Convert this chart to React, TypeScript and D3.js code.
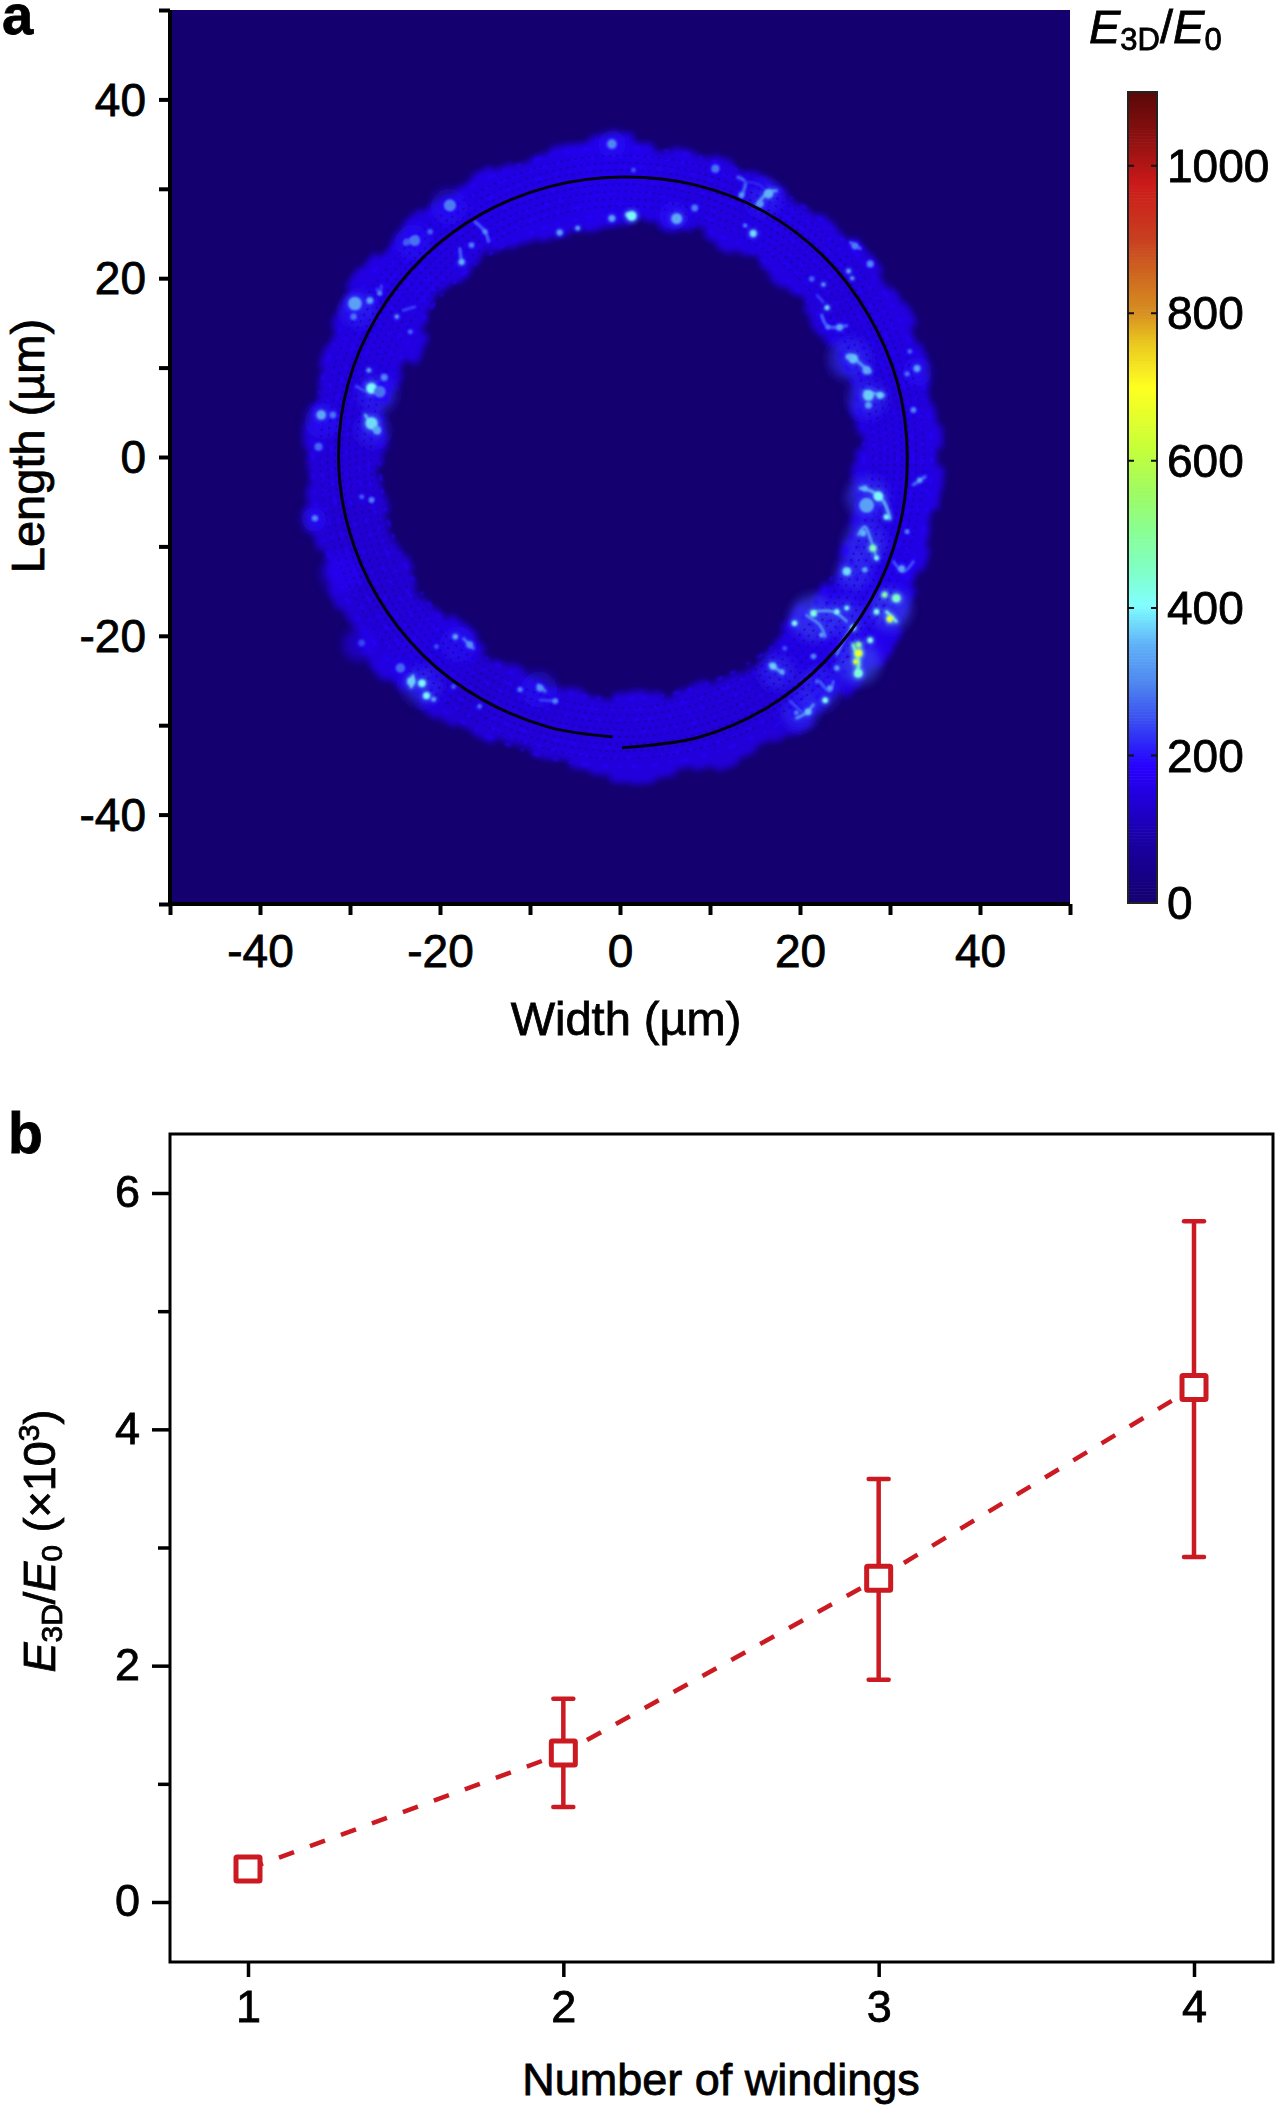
import React, { useEffect, useRef } from 'react';
import * as d3 from 'd3';

const FONT = '"Liberation Sans", Arial, sans-serif';
const RED = '#cc1a22';

// panel a: colour bar
const colorValues = [0, 90, 150, 185, 205, 250, 300, 350, 405, 450, 500, 560, 620, 700, 760, 800, 850, 900, 975, 1040, 1100];
const colorHex = ['#14006e', '#1a00a8', '#2200e0', '#2800ff', '#2a18fa', '#3a50f0', '#5088f0', '#60b0f8', '#80ffff', '#80ffc8', '#88ff98', '#a0fb60', '#c8ff38', '#ffff20', '#eac820', '#d89020', '#cf6a20', '#c84020', '#cc1a1a', '#8c1010', '#5a0808'];
const colorTicks = [0, 200, 400, 600, 800, 1000];

// panel a: ring edges in um, one value per 3.75 degree sector, clockwise from the top
const ringOuter = [
  36, 35, 34.2, 34.9, 34.6, 35.1, 34.5, 35, 34.8, 34.2, 34.4, 35, 34.8, 35.6, 35.7, 35, 35.6, 36, 35.1, 35.6, 35.2, 34.8, 35.2, 35.7,
  35, 35.8, 35.6, 34.9, 35.2, 35.8, 35.2, 35.9, 36, 36.8, 37, 36.2, 36.6, 35.4, 35.8, 36.5, 36, 35.5, 36, 36.5, 35.8, 35.3, 35.9, 36.4,
  36.2, 35.4, 35, 34.3, 34.6, 34, 34.2, 35, 34.8, 35.4, 35.8, 35.1, 35.7, 36.4, 36, 35.2, 35.4, 35.9, 35.2, 34.7, 35.4, 35.9, 35.3, 34.8,
  35, 35.5, 35, 34.4, 34.7, 35.2, 34.8, 35.5, 35.5, 36.1, 35.7, 34.8, 35.1, 35.6, 35.1, 34.5, 35, 35.5, 34.9, 34.4, 34.8, 35.3, 35.2, 35.8];
const ringInner = [
  25.8, 26.6, 26.4, 25.7, 26.2, 26.9, 26, 25.5, 26.2, 26.8, 26.2, 25.7, 26.2, 26.8, 26, 25.6, 26, 26.7, 26.3, 26.9, 26.7, 26, 26.3, 26.9,
  26, 25.6, 26, 26.7, 26.4, 27, 26.4, 27.2, 27.3, 26.4, 26.5, 25.6, 25.8, 26.6, 27, 27.6, 27.5, 27.1, 27.1, 26.4, 26.7, 27.2, 26.4, 26,
  26.2, 27, 26.8, 26.2, 26.6, 27.1, 26.5, 25.9, 26.4, 26.9, 26, 25.4, 25.6, 26.5, 26.9, 27.4, 26.8, 26.2, 26.7, 27.2, 27.1, 26.5, 26.9, 27.3,
  26.6, 26.1, 26.7, 27.2, 26.6, 26, 26.5, 25, 25.2, 26.4, 27, 27.4, 27, 26.4, 26.9, 27.3, 26.7, 26.2, 26, 25.5, 25.4, 25.7, 25.3, 25.6];
// one level per 7.5 degrees
const ringLevel = [160, 155, 150, 150, 155, 150, 150, 145, 150, 150, 145, 150, 150, 155, 155, 160, 160, 165, 155, 145, 140, 140, 145, 145, 145, 145, 140, 140, 135, 145, 150, 140, 135, 135, 135, 140, 140, 145, 145, 150, 150, 155, 150, 150, 155, 155, 155, 160];
const latticeRadii = [27.9, 28.7, 29.5, 30.3, 31.1, 31.9, 32.7, 33.5];
const strandRadii = [26.9, 28.1, 29.3, 30.6, 32.3, 33.4, 34.4];
const strandDashes = ['7 9 3 14 5 8', '4 12 9 7 3 10', '3 16 5 9 6 13', '5 14 3 8 4 17', '6 8 4 15 8 11', '9 7 4 12 5 9', '6 13 8 9 3 11'];

// panel a: black wire, a single turn that does not quite close
const wireAngles = [180, 165, 150, 135, 120, 105, 90, 75, 60, 45, 30, 15, 0, -15, -30, -45, -60, -75, -90, -105, -120, -135, -150, -165, -178];
const wireRadii = [32.3, 32.3, 32.2, 32, 31.9, 31.8, 31.7, 31.7, 31.6, 31.6, 31.5, 31.3, 31.1, 31.1, 31.2, 31.3, 31.4, 31.5, 31.5, 31.4, 31.3, 31.2, 31.1, 31.1, 31.1];

// [x um, y um, value, size um]
const softPatches = [[-29, 16.5, 215, 2], [-27, 7, 215, 2.2], [-27.5, 3, 215, 1.8], [-33, 4, 205, 2], [-19, 28, 205, 2], [-23, 24, 205, 2], [-0.9, 35, 205, 1.5], [6, 27, 205, 1.6], [16, 29, 215, 2], [25.5, 11, 225, 2.4], [27.5, 6.5, 225, 2.2], [33, 9.5, 205, 1.6], [27.5, -4.5, 235, 2.4], [27.3, -9.5, 235, 2.4], [26, -13, 235, 2], [21.5, -18, 245, 2.6], [25, -18, 235, 2.2], [30, -17, 245, 2.4], [26.5, -23, 255, 2.4], [22, -26, 225, 2.4], [20, -28.5, 225, 2], [17.5, -24, 225, 2], [-22, -25.5, 225, 2.2], [-18, -21, 205, 2], [-9, -26, 205, 2], [-34, -7, 195, 1.4], [-31, -13, 190, 2.2], [-29, -21, 190, 1.8]];
const hotSpots = [[-29.45, 17.16, 330, 0.9], [-27.8, 17.5, 330, 0.4], [-26.7, 18.3, 300, 0.25], [-29.6, 15.7, 280, 0.4], [-27.6, 7.67, 400, 0.7], [-26.7, 7.3, 280, 0.8], [-26.2, 8.9, 300, 0.4], [-27.9, 9.7, 330, 0.25], [-27.6, 3.76, 380, 0.8], [-27, 3, 330, 0.5], [-33.2, 4.7, 340, 0.6], [-31.9, 4.7, 280, 0.4], [-33.5, 1.15, 270, 0.5], [-18.9, 28.15, 290, 0.8], [-22.8, 24.2, 280, 0.7], [-23.7, 24.05, 260, 0.4], [-17.6, 21.8, 350, 0.35], [-16.5, 23.7, 300, 0.3], [-15, 25.2, 310, 0.25], [-24.8, 15.7, 340, 0.2], [-23.3, 14, 280, 0.25], [-6.7, 25.1, 330, 0.35], [-4.7, 25.6, 330, 0.25], [-0.9, 26.7, 330, 0.4], [-0.9, 35, 300, 0.6], [0.9, 27.1, 380, 0.3], [-21.1, 25.2, 270, 0.3],
  [1.3, 26.96, 400, 0.6], [6.3, 26.66, 340, 0.7], [10.6, 32.25, 280, 0.5], [16.5, 29.45, 350, 0.6], [15.6, 28.3, 320, 0.4], [13.5, 29.3, 320, 0.3], [14.8, 25, 380, 0.4], [13.9, 25.9, 300, 0.2], [26.1, 23.6, 290, 0.4], [27.8, 21.6, 300, 0.4], [25.4, 20.8, 340, 0.25], [25.8, 20, 330, 0.2], [22.6, 19.3, 340, 0.2], [23, 16.7, 380, 0.25], [24.4, 14.5, 330, 0.4], [23.1, 14.5, 290, 0.25], [25.9, 11, 360, 0.6], [27.4, 9.7, 340, 0.5], [25.4, 11.2, 350, 0.35], [27.6, 6.9, 370, 0.7], [28.9, 6.9, 370, 0.4], [27.6, 5.8, 330, 0.4], [33, 9.9, 330, 0.4], [31.9, 9.3, 280, 0.3], [32.6, 5.25, 300, 0.3], [32.2, 11.8, 270, 0.25], [21.3, 19.9, 270, 0.3], [8.3, 27.85, 290, 0.4], [1.5, 32.1, 260, 0.25],
  [-33.9, -6.86, 300, 0.35], [-27.6, -4.8, 300, 0.3], [-28.7, -4.45, 270, 0.25], [-22, -25.3, 400, 0.45], [-23.2, -25.1, 370, 0.5], [-21.5, -26.7, 400, 0.4], [-20.7, -27.1, 340, 0.25], [-24.4, -23.6, 270, 0.6], [-18.3, -20.1, 340, 0.3], [-16.7, -21, 310, 0.4], [-8.9, -25.85, 310, 0.4], [-11.1, -26, 290, 0.3], [-7.2, -27.3, 300, 0.3], [-18.5, -25.7, 260, 0.25], [-15.6, -27.9, 280, 0.25], [-28.7, -20.8, 240, 0.4], [-20.4, -21.2, 260, 0.25],
  [28.7, -4.4, 400, 0.6], [27.4, -5.4, 330, 1], [27.2, -3.5, 350, 0.3], [29.6, -6.7, 400, 0.3], [27, -8.5, 350, 0.4], [28.1, -10.2, 470, 0.4], [28.5, -11.3, 400, 0.25], [25.2, -12.8, 380, 0.5], [27.2, -12.6, 340, 0.3], [30.7, -15.8, 450, 0.5], [29.4, -15.4, 480, 0.3], [30, -18.1, 680, 0.35], [28.5, -17.3, 420, 0.3], [31.3, -12.5, 330, 0.4], [31.9, -8.35, 300, 0.25], [33.3, -2.6, 340, 0.25], [26.5, -21.95, 690, 0.4], [26.2, -22.9, 690, 0.25], [26.5, -21, 520, 0.3], [26.5, -24.2, 430, 0.5], [27.8, -20.5, 430, 0.3], [25.9, -19.1, 440, 0.3], [21.5, -17.5, 430, 0.4], [19.4, -18.6, 400, 0.3], [22.4, -19.9, 340, 0.25], [24.1, -17.3, 400, 0.3], [25.2, -16.9, 400, 0.25], [17, -23.4, 370, 0.4], [18, -24, 340, 0.25], [21.5, -22.3, 300, 0.3], [22.8, -27.2, 420, 0.3], [20.9, -28.5, 360, 0.4], [19.6, -28.6, 300, 0.25], [23.3, -25.85, 330, 0.3], [24.1, -23.6, 330, 0.3], [21.9, -25.1, 270, 0.25], [18.3, -21.4, 260, 0.25]];

// [value, x1, y1, x2, y2, ...] thin bright strands
const filaments = [[360, 26.7, -3.5, 28.1, -3.9, 29.3, -5, 30, -6.9], [340, 26.5, -8.7, 27.2, -7.8, 27.8, -9.1, 28.5, -11.3], [320, 20.7, -17.7, 22.2, -18.8, 22.8, -20.1], [300, 25.9, -18.8, 24.8, -20.6, 24.1, -22.1], [290, 32.6, -3.1, 33.9, -2.2], [270, 30.4, -11.7, 31.5, -12.8, 32.6, -11.7], [280, 22.2, -25.1, 23.3, -26.2, 23.7, -25.1], [330, 19.6, -29.2, 20.7, -28.6, 21.5, -27.7], [260, 18.9, -27.3, 20.2, -28.5], [480, 25.9, -21, 26.5, -22.9, 26.3, -24.4], [330, 21.5, -17.3, 23.7, -17.3, 25.2, -18.4], [420, 29.6, -17.3, 30.7, -18.4], [340, 16.7, -23.2, 18.1, -24.2],
  [280, -17.8, 23.3, -17.6, 21.8], [280, -16.1, 26.3, -15, 25.2, -14.6, 24.1], [250, -27, 18.8, -26.7, 18.3, -26.5, 19.2], [250, -24.1, 16.4, -22.8, 16.8], [260, -29.3, 7.9, -28.2, 7.3], [360, -28.3, 4.7, -27.6, 3.6, -26.9, 2.8], [290, -23.9, 23.9, -22.6, 24.6],
  [340, 15.2, 28.2, 16.5, 29.6, 17.4, 29.8], [290, 13.1, 31.3, 13.9, 30.8, 13.5, 29.1], [220, 13.9, 30.8, 15.6, 30.4, 16.3, 29.6], [280, 22.4, 15.9, 23.1, 14.6, 25.2, 14.7], [280, 25.6, 24, 26.7, 23.3], [340, 27.2, 7.3, 29.3, 6.9], [340, 25.6, 11.4, 27.8, 9.5], [240, 21.9, 18.1, 22.6, 17.3],
  [300, -17.4, -20.3, -16.3, -21.4], [300, -9.1, -25.5, -8.3, -26.2], [380, -23, -24.5, -23.2, -25.7], [250, -8.9, -27.2, -7.1, -27.3]];

// panel a: axes
const axisTicks = d3.range(-50, 51, 10);
const axisLabelled = [-40, -20, 0, 20, 40];

// panel b
const windings = [1, 2, 3, 4];
const enhancement = [0.28, 1.26, 2.74, 4.355];
const errorLow = [0.28, 0.805, 1.88, 2.92];
const errorHigh = [0.28, 1.72, 3.58, 5.76];
const yMajor = [0, 2, 4, 6];
const yMinor = [1, 3, 5];

const App = () => {
  const ref = useRef<SVGSVGElement>(null);

  useEffect(() => {
    const svg = d3.select(ref.current);
    svg.selectAll('*').remove();
    svg.attr('font-family', FONT).attr('fill', '#000');

    const color = d3.scaleLinear<string>().domain(colorValues).range(colorHex).clamp(true);

    const defs = svg.append('defs');
    const blur = (id: string, sd: number) =>
      defs.append('filter').attr('id', id)
        .attr('x', '-30%').attr('y', '-30%').attr('width', '160%').attr('height', '160%')
        .append('feGaussianBlur').attr('stdDeviation', sd);
    blur('band', 3);
    blur('soft', 5);
    blur('strand', 1.2);
    blur('glow', 2);
    blur('core', 1);
    blur('lattice', 0.5);

    // ---------- panel a ----------
    const x = d3.scaleLinear().domain([-50, 50]).range([170, 1070]);
    const y = d3.scaleLinear().domain([-50, 50]).range([904, 10]);
    const px = (v: number) => x(v) - x(0);
    const cx = x(0) + 2;
    const cy = y(0);

    svg.append('rect')
      .attr('x', x(-50)).attr('y', y(50))
      .attr('width', x(50) - x(-50)).attr('height', y(-50) - y(50))
      .attr('fill', color(0));

    // ring band, one arc sector per reading
    const step = (2 * Math.PI) / ringOuter.length;
    const arc = d3.arc<number>()
      .innerRadius(i => px(ringInner[i]))
      .outerRadius(i => px(ringOuter[i]))
      .startAngle(i => i * step - step / 2 - 0.004)
      .endAngle(i => i * step + step / 2 + 0.004);
    svg.append('g')
      .attr('transform', `translate(${cx},${cy})`)
      .attr('filter', 'url(#band)')
      .selectAll('path')
      .data(d3.range(ringOuter.length))
      .join('path')
      .attr('d', arc)
      .attr('fill', i => color(ringLevel[i >> 1]));

    svg.append('g')
      .attr('filter', 'url(#soft)')
      .selectAll('circle')
      .data(softPatches)
      .join('circle')
      .attr('cx', d => x(d[0])).attr('cy', d => y(d[1]))
      .attr('r', d => px(d[3]))
      .attr('fill', d => color(d[2]))
      .attr('opacity', 0.55);

    // uneven lighter strands through the band
    svg.append('g')
      .attr('filter', 'url(#strand)')
      .selectAll('circle')
      .data(strandRadii)
      .join('circle')
      .attr('cx', cx).attr('cy', cy)
      .attr('r', d => px(d))
      .attr('fill', 'none')
      .attr('stroke', color(192))
      .attr('stroke-width', 3)
      .attr('stroke-dasharray', (d, i) => strandDashes[i])
      .attr('opacity', 0.7);

    // darker dotted lattice that runs along the wire
    svg.append('g')
      .attr('filter', 'url(#lattice)')
      .selectAll('circle')
      .data(latticeRadii)
      .join('circle')
      .attr('cx', cx).attr('cy', cy)
      .attr('r', d => px(d))
      .attr('fill', 'none')
      .attr('stroke', color(40))
      .attr('stroke-width', 2)
      .attr('stroke-dasharray', '2.5 4.5')
      .attr('opacity', 0.5);

    svg.append('g')
      .attr('filter', 'url(#glow)')
      .selectAll('circle')
      .data(hotSpots)
      .join('circle')
      .attr('cx', d => x(d[0])).attr('cy', d => y(d[1]))
      .attr('r', d => px(d[3]) * 1.1 + 1)
      .attr('fill', d => color(d[2] * 0.65));

    const strand = d3.line<number[]>().x(d => x(d[0])).y(d => y(d[1])).curve(d3.curveCatmullRom);
    const strandPath = (d: number[]) => strand(d3.range(1, d.length, 2).map(i => [d[i], d[i + 1]]));
    svg.append('g')
      .attr('filter', 'url(#glow)')
      .selectAll('path')
      .data(filaments)
      .join('path')
      .attr('d', strandPath)
      .attr('fill', 'none')
      .attr('stroke', d => color(d[0] * 0.7))
      .attr('stroke-width', 5)
      .attr('stroke-linecap', 'round');
    svg.append('g')
      .attr('filter', 'url(#core)')
      .selectAll('path')
      .data(filaments)
      .join('path')
      .attr('d', strandPath)
      .attr('fill', 'none')
      .attr('stroke', d => color(d[0]))
      .attr('stroke-width', 2.4)
      .attr('stroke-linecap', 'round');

    svg.append('g')
      .attr('filter', 'url(#core)')
      .selectAll('circle')
      .data(hotSpots)
      .join('circle')
      .attr('cx', d => x(d[0])).attr('cy', d => y(d[1]))
      .attr('r', d => px(d[3]) * 0.75 + 0.7)
      .attr('fill', d => color(d[2]));

    // the wire
    const wire = d3.lineRadial<number>()
      .angle(d => (wireAngles[d] * Math.PI) / 180)
      .radius(d => px(wireRadii[d]))
      .curve(d3.curveCatmullRom);
    svg.append('path')
      .attr('transform', `translate(${cx},${cy})`)
      .attr('d', wire(d3.range(wireAngles.length)))
      .attr('fill', 'none')
      .attr('stroke', '#050010')
      .attr('stroke-width', 3);

    const styleAxis = (g: any, size: number, width: number) => {
      g.select('.domain').remove();
      g.selectAll('.tick line').attr('stroke', '#000').attr('stroke-width', width);
      g.selectAll('text').attr('fill', '#000').attr('font-family', FONT).attr('font-size', size);
    };
    const labelA = (d: any) => (axisLabelled.includes(d) ? String(d) : '');

    const leftA = svg.append('g').attr('transform', `translate(${x(-50)},0)`)
      .call(d3.axisLeft(y).tickValues(axisTicks).tickFormat(labelA).tickSize(11).tickPadding(13));
    styleAxis(leftA, 46, 4);
    leftA.selectAll('text').attr('dy', '0.34em');

    const bottomA = svg.append('g').attr('transform', `translate(0,${y(-50)})`)
      .call(d3.axisBottom(x).tickValues(axisTicks).tickFormat(labelA).tickSize(11).tickPadding(19));
    styleAxis(bottomA, 46, 4);

    svg.append('line').attr('x1', x(-50)).attr('x2', x(-50)).attr('y1', y(50)).attr('y2', y(-50) + 2).attr('stroke', '#000').attr('stroke-width', 4);
    svg.append('line').attr('x1', x(-50)).attr('x2', x(50)).attr('y1', y(-50)).attr('y2', y(-50)).attr('stroke', '#000').attr('stroke-width', 4);

    svg.append('text').attr('x', 626).attr('y', 1035).attr('text-anchor', 'middle').attr('font-size', 47).text('Width (µm)');
    svg.append('text').attr('transform', 'translate(44,446) rotate(-90)').attr('text-anchor', 'middle').attr('font-size', 47).text('Length (µm)');
    svg.append('text').attr('x', 2).attr('y', 34).attr('font-size', 56).attr('font-weight', 'bold').text('a');

    // colour bar
    const barX = 1128;
    const barW = 29;
    const barY = d3.scaleLinear().domain([0, 1100]).range([903, 92]);
    svg.append('g')
      .selectAll('rect')
      .data(d3.range(0, 1100, 4))
      .join('rect')
      .attr('x', barX).attr('width', barW)
      .attr('y', d => barY(d + 4)).attr('height', barY(0) - barY(4) + 0.6)
      .attr('fill', d => color(d + 2));
    svg.append('rect').attr('x', barX).attr('y', barY(1100)).attr('width', barW).attr('height', barY(0) - barY(1100))
      .attr('fill', 'none').attr('stroke', '#222').attr('stroke-width', 2);
    const barTicks = svg.append('g').selectAll('g').data(colorTicks).join('g');
    barTicks.filter(d => d > 0).append('path')
      .attr('d', d => `M${barX},${barY(d)}h6M${barX + barW},${barY(d)}h-6`)
      .attr('stroke', '#111').attr('stroke-width', 2);
    barTicks.append('text')
      .attr('x', 1167).attr('y', d => barY(d) + 16)
      .attr('font-size', 46)
      .text(d => String(d));

    const barTitle = svg.append('text').attr('x', 1089).attr('y', 43).attr('font-size', 47);
    barTitle.append('tspan').attr('font-style', 'italic').text('E');
    barTitle.append('tspan').attr('font-size', 31).attr('dy', 7).text('3D');
    barTitle.append('tspan').attr('dy', -7).text('/');
    barTitle.append('tspan').attr('font-style', 'italic').text('E');
    barTitle.append('tspan').attr('font-size', 31).attr('dy', 7).text('0');

    // ---------- panel b ----------
    const xb = d3.scaleLinear().domain([1, 4]).range([248, 1194]);
    const yb = d3.scaleLinear().domain([0, 6]).range([1902, 1193]);
    const bx0 = xb.invert(170);
    const bx1 = xb.invert(1273);
    const by0 = yb.invert(1962);
    const by1 = yb.invert(1134);

    svg.append('rect')
      .attr('x', xb(bx0)).attr('y', yb(by1))
      .attr('width', xb(bx1) - xb(bx0)).attr('height', yb(by0) - yb(by1))
      .attr('fill', 'none').attr('stroke', '#000').attr('stroke-width', 3);

    const leftB = svg.append('g').attr('transform', `translate(${xb(bx0)},0)`)
      .call(d3.axisLeft(yb).tickValues(yMajor).tickFormat(d => String(d)).tickSize(18).tickPadding(12));
    styleAxis(leftB, 45, 3.5);
    leftB.selectAll('text').attr('dy', '0.31em');
    const minorB = svg.append('g').attr('transform', `translate(${xb(bx0)},0)`)
      .call(d3.axisLeft(yb).tickValues(yMinor).tickFormat(() => '').tickSize(12));
    styleAxis(minorB, 45, 3.5);

    const bottomB = svg.append('g').attr('transform', `translate(0,${yb(by0)})`)
      .call(d3.axisBottom(xb).tickValues(windings).tickFormat(d => String(d)).tickSize(15).tickPadding(13));
    styleAxis(bottomB, 45, 3.5);

    svg.append('text').attr('x', 721).attr('y', 2095).attr('text-anchor', 'middle').attr('font-size', 45).text('Number of windings');

    const yLabel = svg.append('text').attr('transform', 'translate(55,1541) rotate(-90)').attr('text-anchor', 'middle').attr('font-size', 45);
    yLabel.append('tspan').attr('font-style', 'italic').text('E');
    yLabel.append('tspan').attr('font-size', 30).attr('dy', 7).text('3D');
    yLabel.append('tspan').attr('dy', -7).text('/');
    yLabel.append('tspan').attr('font-style', 'italic').text('E');
    yLabel.append('tspan').attr('font-size', 30).attr('dy', 7).text('0');
    yLabel.append('tspan').attr('dy', -7).text(' (×10');
    yLabel.append('tspan').attr('font-size', 30).attr('dy', -16).text('3');
    yLabel.append('tspan').attr('dy', 16).text(')');

    svg.append('text').attr('x', 8).attr('y', 1153).attr('font-size', 57).attr('font-weight', 'bold').text('b');

    // dashed trend
    const trend = d3.line<number>().x(d => xb(windings[d])).y(d => yb(enhancement[d]));
    svg.append('path')
      .attr('d', trend(d3.range(windings.length)))
      .attr('fill', 'none')
      .attr('stroke', RED)
      .attr('stroke-width', 4.5)
      .attr('stroke-dasharray', '16 17');

    // error bars
    const bars = svg.append('g').attr('stroke', RED).attr('fill', 'none');
    windings.forEach((w, i) => {
      if (errorHigh[i] === errorLow[i]) return;
      bars.append('line').attr('x1', xb(w)).attr('x2', xb(w)).attr('y1', yb(errorLow[i])).attr('y2', yb(errorHigh[i])).attr('stroke-width', 4.5);
      [errorLow[i], errorHigh[i]].forEach(v => {
        bars.append('line').attr('x1', xb(w) - 10).attr('x2', xb(w) + 10).attr('y1', yb(v)).attr('y2', yb(v))
          .attr('stroke-width', 4.5).attr('stroke-linecap', 'round');
      });
    });

    // markers
    svg.append('g')
      .selectAll('rect')
      .data(windings)
      .join('rect')
      .attr('x', d => xb(d) - 12)
      .attr('y', (d, i) => yb(enhancement[i]) - 12)
      .attr('width', 24).attr('height', 24)
      .attr('fill', '#fff')
      .attr('stroke', RED)
      .attr('stroke-width', 5)
      .attr('rx', 1);

    // the printed labels are heavier than the plain face
    svg.selectAll('text').attr('stroke', '#000').attr('stroke-width', 0.8);
  }, []);

  return (
    <svg ref={ref} width={1280} height={2110} style={{ position: 'absolute', left: 0, top: 0, background: '#fff' }} />
  );
};

export default App;
